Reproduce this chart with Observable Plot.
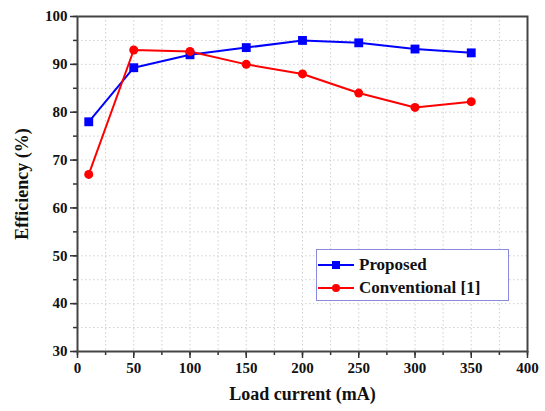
<!DOCTYPE html>
<html>
<head>
<meta charset="utf-8">
<script src="https://cdn.jsdelivr.net/npm/d3@7"></script>
<script src="https://cdn.jsdelivr.net/npm/@observablehq/plot@0.6"></script>
<style>
  body { margin: 0; background: #fff; }
  #wrap { position: relative; width: 545px; height: 411px; font-family: "Liberation Serif", "DejaVu Serif", serif; }
  #wrap svg text { font-family: "Liberation Serif", "DejaVu Serif", serif; }
  #legend { position: absolute; left: 316px; top: 249px; width: 193px; height: 52px; border: 1.5px solid #8a8ae0; background: #fff; box-sizing: border-box; }
  .row { position: absolute; left: 0; height: 24px; display: flex; align-items: center; font-weight: bold; font-size: 17px; color: #111; font-family: "Liberation Serif", "DejaVu Serif", serif; }
  .row svg { margin-right: 4px; }
</style>
</head>
<body>
<div id="wrap"></div>
<script>
const loadCurrent = [10, 50, 100, 150, 200, 250, 300, 350];
const proposed = [78.0, 89.3, 92.0, 93.5, 95.0, 94.5, 93.2, 92.4];
const conventional = [67.0, 93.0, 92.7, 90.0, 88.0, 84.0, 81.0, 82.2];
const seriesNames = ["Proposed", "Conventional [1]"];
const seriesColors = ["#0000ff", "#ff0000"];
const xTicks = [0, 50, 100, 150, 200, 250, 300, 350, 400];
const yTicks = [30, 40, 50, 60, 70, 80, 90, 100];
const xMinor = d3.range(0, 401, 25);
const yMinor = d3.range(30, 101, 5);

const dataP = loadCurrent.map((x, i) => ({x, y: proposed[i]}));
const dataC = loadCurrent.map((x, i) => ({x, y: conventional[i]}));

const serif = "'Liberation Serif', 'DejaVu Serif', serif";
const chart = Plot.plot({
  width: 545,
  height: 411,
  marginLeft: 77,
  marginRight: 18,
  marginTop: 16,
  marginBottom: 60,
  style: {fontFamily: serif, fontWeight: "bold", fontSize: "15px", color: "#111", background: "#fff"},
  x: {domain: [0, 400]},
  y: {domain: [30, 100]},
  marks: [
    Plot.gridX(xMinor, {stroke: "#bbb", strokeOpacity: 0.7, strokeDasharray: "1.5,2.5", strokeWidth: 1}),
    Plot.gridY(yMinor, {stroke: "#bbb", strokeOpacity: 0.7, strokeDasharray: "1.5,2.5", strokeWidth: 1}),
    Plot.axisX(xMinor, {tickSize: 4, text: null, stroke: "#333", strokeWidth: 1.5, label: null}),
    Plot.axisY(yMinor, {tickSize: 4, text: null, stroke: "#333", strokeWidth: 1.5, label: null}),
    Plot.axisX(xTicks, {tickSize: 7, tickPadding: 4, stroke: "#333", strokeWidth: 1.5, fontSize: 15, fontWeight: "bold", fontFamily: serif, label: "Load current (mA)", labelAnchor: "center", labelOffset: 48, labelArrow: "none"}),
    Plot.axisY(yTicks, {tickSize: 7, tickPadding: 3, stroke: "#333", strokeWidth: 1.5, fontSize: 15, fontWeight: "bold", fontFamily: serif, label: "Efficiency (%)", labelAnchor: "center", labelOffset: 62, labelArrow: "none"}),
    Plot.frame({stroke: "#444", strokeWidth: 2}),
    Plot.line(dataP, {x: "x", y: "y", stroke: seriesColors[0], strokeWidth: 2}),
    Plot.line(dataC, {x: "x", y: "y", stroke: seriesColors[1], strokeWidth: 2}),
    Plot.dot(dataP, {x: "x", y: "y", symbol: "square", r: 5, fill: seriesColors[0]}),
    Plot.dot(dataC, {x: "x", y: "y", symbol: "circle", r: 4.5, fill: seriesColors[1]})
  ]
});
chart.querySelectorAll("g[aria-label='x-axis label'] text, g[aria-label='y-axis label'] text").forEach(t => t.setAttribute("font-size", "18"));
const wrap = document.getElementById("wrap");
wrap.appendChild(chart);

const legend = document.createElement("div");
legend.id = "legend";
const markers = ["square", "circle"];
seriesNames.forEach((name, i) => {
  const row = document.createElement("div");
  row.className = "row";
  row.style.top = (3 + i * 23) + "px";
  const mk = markers[i] === "square"
    ? `<rect x="15" y="4" width="8" height="8" fill="${seriesColors[i]}"/>`
    : `<circle cx="19" cy="8" r="4" fill="${seriesColors[i]}"/>`;
  row.innerHTML = `<svg width="38" height="16"><line x1="1" x2="37" y1="8" y2="8" stroke="${seriesColors[i]}" stroke-width="2"/>${mk}</svg><span>${name}</span>`;
  legend.appendChild(row);
});
wrap.appendChild(legend);
</script>
</body>
</html>
